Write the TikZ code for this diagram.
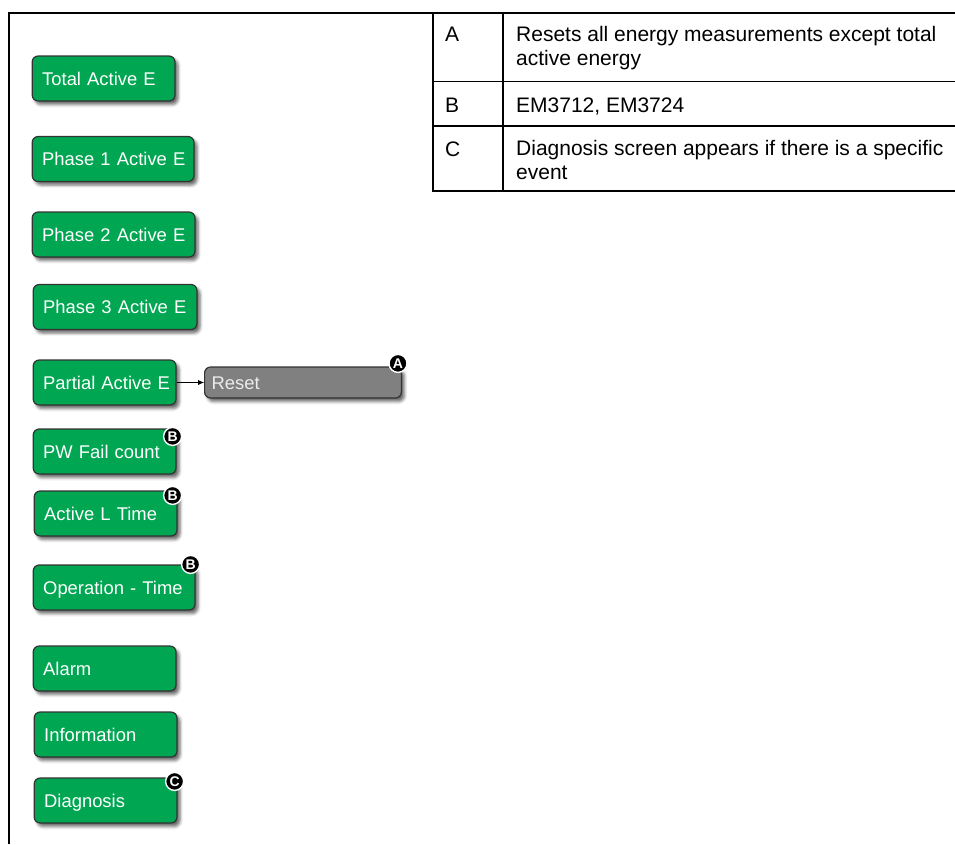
\documentclass[tikz,border=0pt]{standalone}
\usepackage{fontspec}
\setmainfont{Liberation Sans}
\usetikzlibrary{positioning,arrows.meta,shadows.blur}
\definecolor{screengreen}{HTML}{00A651}
\definecolor{screenedge}{HTML}{333333}
\definecolor{resetgray}{HTML}{808080}

\begin{document}
\begin{tikzpicture}[
  x=1pt, y=-1pt, >={Latex[length=6pt,width=5pt]},
  screen/.style={rectangle, rounded corners=6pt, draw=screenedge, line width=1.2pt,
    fill=screengreen, text=white, font=\fontsize{18.4}{22}\selectfont, anchor=west,
    minimum height=45pt, inner xsep=10pt, inner ysep=0pt, text height=15pt, text depth=1.8pt,
    text width=#1, execute at begin node=\hbox\bgroup, execute at end node=\egroup,
    blur shadow={shadow xshift=3pt, shadow yshift=-3.5pt, shadow blur radius=3pt, shadow opacity=60}},
  screen/.default=122.8pt,
  resetbox/.style={screen=182.8pt, fill=resetgray, text=white!92!black, minimum height=31pt, inner xsep=7pt},
  tag/.style={circle, fill=black, draw=white, line width=1.4pt, minimum size=18pt, inner sep=0pt,
    text=white, font=\bfseries\fontsize{14}{14}\selectfont},
  cell/.style={anchor=base west, inner sep=0pt, align=left, font=\fontsize{21}{23.5}\selectfont},
  grid/.style={line width=1.3pt}
]
\useasboundingbox (0,0) rectangle (955,844);
% menu screens
\node[screen] (total) at (31.6,78.5) {Total Active E};
\node[screen=141.8pt] (phase1) at (31.6,159) {Phase 1 Active E};
\node[screen=142.8pt] (phase2) at (31.6,234.5) {Phase 2 Active E};
\node[screen=143.8pt] (phase3) at (32.6,307) {Phase 3 Active E};
\node[screen] (partial) at (32.6,382.5) {Partial Active E};
\node[screen] (pwfail) at (32.6,451.5) {PW Fail count};
\node[screen] (loadtime) at (33.6,513.5) {Active L Time};
\node[screen=141.8pt] (optime) at (32.6,587.5) {Operation - Time};
\node[screen] (alarm) at (32.6,668.5) {Alarm};
\node[screen] (info) at (33.6,734.5) {Information};
\node[screen] (diag) at (33.6,800.5) {Diagnosis};
\node[resetbox, right=27.4pt of partial] (reset) {Reset};
\draw[->] (partial) -- (reset);
% note markers
\node[tag] (tagA) at ([shift={(-4,-3)}]reset.north east) {A};
\node[tag] (tagB1) at ([shift={(-4,8)}]pwfail.north east) {B};
\node[tag] (tagB2) at ([shift={(-5,5)}]loadtime.north east) {B};
\node[tag] (tagB3) at ([shift={(-5,0)}]optime.north east) {B};
\node[tag] (tagC) at ([shift={(-3,4)}]diag.north east) {C};
% frame and legend table
\draw[grid] (9,844) -- (9,13) -- (955,13);
\draw[grid] (433,13) -- (433,191) -- (955,191);
\draw[grid] (503,13) -- (503,191);
\draw[grid] (433,81.5) -- (955,81.5);
\draw[grid] (433,126) -- (955,126);
\node[cell] (keyA) at (445,41.5) {A};
\node[cell] (noteA) at (516,65) {Resets all energy measurements except total\\active energy};
\node[cell] (keyB) at (445,112) {B};
\node[cell] (noteB) at (516,112) {EM3712, EM3724};
\node[cell] (keyC) at (445,156) {C};
\node[cell] (noteC) at (516,179) {Diagnosis screen appears if there is a specific\\event};
\end{tikzpicture}
\end{document}
